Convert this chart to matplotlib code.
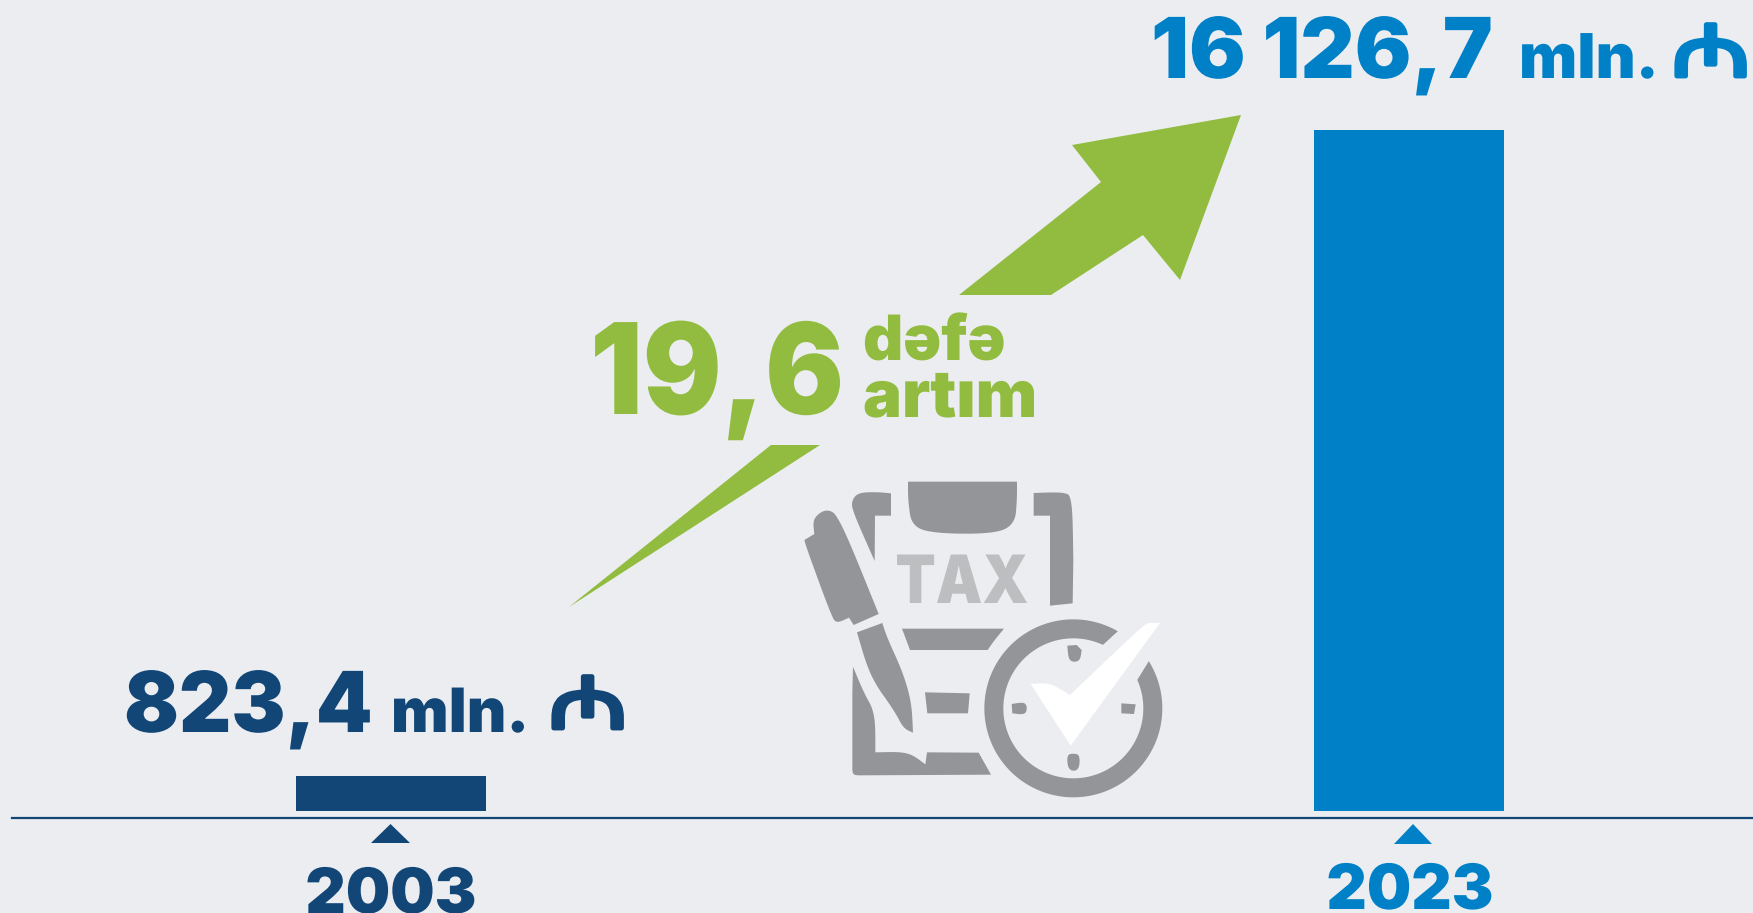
import numpy as np
import matplotlib
matplotlib.use('Agg')
import matplotlib.pyplot as plt
import matplotlib.patheffects as pe
from matplotlib.patches import Polygon
from matplotlib.transforms import Affine2D

# Data
years = ['2003', '2023']
values = [823.4, 16126.7]
value_labels = ['823,4', '16 126,7']
growth_label = '19,6'
unit = 'mln.'
currency = '\u20bc'

# Colours
BG = '#EBEDF1'
NAVY = '#114677'
BLUE = '#0080C6'
GREEN = '#92BC3F'
GRAY = '#939598'
LIGHT = '#BCBEC0'
WHITE = '#FFFFFF'

W, H = 1753, 913
BASE_Y = 811  # pixel row of value 0
PX_PER_VALUE = 681 / values[1]

fig = plt.figure(figsize=(W / 100, H / 100), dpi=100, facecolor=BG)

# bars on a real value scale
ax = fig.add_axes([0, 0, 1, 1])
ax.set_xlim(0, W)
ax.set_ylim(-(H - BASE_Y) / PX_PER_VALUE, BASE_Y / PX_PER_VALUE)
ax.axis('off')
ax.bar([391, 1409], values, width=190, color=[NAVY, BLUE], linewidth=0)

# everything else is placed in picture pixels
ov = fig.add_axes([0, 0, 1, 1])
ov.set_xlim(0, W)
ov.set_ylim(H, 0)
ov.axis('off')
ov.patch.set_alpha(0)

ov.plot([12, W], [818, 818], color=NAVY, lw=1.6)


class Squeeze(pe.AbstractPathEffect):
    """Scale drawn text about a point, the fonts here are wider than the original one"""

    def __init__(self, x, y, kx=1.0, ky=1.0, stroke=0.0):
        super().__init__()
        self.t = Affine2D().translate(-x, -(H - y)).scale(kx, ky).translate(x, H - y)
        self.stroke = stroke

    def draw_path(self, renderer, gc, tpath, affine, rgbFace=None):
        gc0 = renderer.new_gc()
        gc0.copy_properties(gc)
        if self.stroke:
            gc0.set_linewidth(self.stroke)
            gc0.set_foreground(rgbFace)
        renderer.draw_path(gc0, tpath, affine + self.t, rgbFace)
        gc0.restore()


def poly(pts, color):
    ov.add_patch(Polygon(pts, closed=True, facecolor=color, edgecolor='none'))


def label(x, y, s, size, color, ha='left', kx=1.0):
    ov.text(x, y, s, fontsize=size, color=color, ha=ha, va='baseline',
            family='Inter', fontweight=900, path_effects=[Squeeze(x, y, kx)])


def manat(x, y, size, color):
    # Noto Sans has the sign but only in a regular weight, so thicken it
    ov.text(x, y, currency, fontsize=size, color=color, ha='left', va='baseline',
            family='Noto Sans', path_effects=[Squeeze(x, y, 1.0, 0.73, 3.5)])


def smooth(pts, rounds=3):
    # corner cutting; only points given as (x, y, 1) get rounded
    pts = [(p[0], p[1], len(p) > 2) for p in pts]
    for _ in range(rounds):
        new = []
        n = len(pts)
        for i, p in enumerate(pts):
            if not p[2]:
                new.append(p)
                continue
            a, b = pts[i - 1], pts[(i + 1) % n]
            new.append((0.75 * p[0] + 0.25 * a[0], 0.75 * p[1] + 0.25 * a[1], True))
            new.append((0.75 * p[0] + 0.25 * b[0], 0.75 * p[1] + 0.25 * b[1], True))
        pts = new
    return [(p[0], p[1]) for p in pts]


def icon(pts, color=GRAY):
    pts = np.array(smooth(pts), dtype=float)
    poly(np.column_stack([780 + pts[:, 0] / 3, 460 + pts[:, 1] / 3]), color)


# year markers
poly([(390.5, 824), (371, 843), (410, 843)], NAVY)
poly([(1413, 824), (1394, 844), (1432, 844)], BLUE)
label(391, 913, years[0], 45, NAVY, ha='center')
label(1410, 909, years[1], 45, BLUE, ha='center')

# value labels
label(124, 732, value_labels[0], 60.5, NAVY, kx=0.964)
label(391, 732, unit, 44, NAVY)
manat(548, 728, 71, NAVY)
label(1151, 78, value_labels[1], 60.5, BLUE)
label(1519, 78, unit, 44.5, BLUE)
manat(1671, 76, 71, BLUE)

# growth arrow and label
poly([(1241, 115), (1072, 145), (1101, 182), (959, 295), (1051, 295),
      (1143, 235), (1180, 280)], GREEN)
poly([(771, 445), (820, 445), (569, 607)], GREEN)
label(590, 414, growth_label, 91, GREEN, kx=0.924)
label(863, 360, 'dəfə', 45, GREEN)
label(863, 417, 'artım', 47, GREEN)

# tax icon
icon([(333, 100), (290, 96, 1), (235, 98, 1), (216, 120, 1), (216, 150, 1),
      (284, 303), (285, 167), (333, 167)])
icon([(384, 65), (711, 65), (711, 120, 1), (705, 190, 1), (650, 221, 1),
      (470, 221, 1), (395, 200, 1), (384, 120, 1)])
icon([(761, 99), (850, 96, 1), (877, 110, 1), (880, 300), (878, 430),
      (810, 437), (810, 167), (761, 167)])
icon([(73, 240), (103, 222), (98, 175, 1), (140, 145, 1), (178, 170, 1), (296, 462),
      (221, 495), (207, 473), (170, 490, 1), (155, 470, 1), (80, 265, 1)])
icon([(231, 517), (307, 489), (320, 530, 1), (370, 640, 1), (395, 730, 1),
      (399, 818), (370, 805, 1), (345, 755, 1), (270, 650, 1)])
icon([(366, 506), (672, 506), (640, 545, 1), (623, 570), (390, 570)])
icon([(435, 697), (569, 700), (564, 760), (442, 760)])
icon([(219, 620), (250, 695, 1), (286, 760, 1), (286, 877), (385, 875, 1),
      (436, 913), (441, 877), (596, 878), (633, 944), (250, 946), (217, 946, 1),
      (217, 915), (217, 700)])
label(962, 603, 'TAX', 48, LIGHT, ha='center', kx=0.88)

# clock ring with a gap for the tick
outer = np.radians(np.linspace(60, 392, 120))
inner = np.radians(np.linspace(384, 65, 120))
ring = np.concatenate([
    np.column_stack([880 + 267 * np.cos(outer), 745 - 267 * np.sin(outer)]),
    np.column_stack([880 + 210 * np.cos(inner), 745 - 210 * np.sin(inner)]),
])
icon(ring)
icon([(862, 557), (890, 555), (905, 570), (900, 605, 1), (866, 605, 1)])
icon([(695, 732), (740, 725, 1), (740, 765, 1), (697, 760)])
icon([(1024, 730), (1067, 733), (1062, 762), (1024, 760)])
icon([(880, 880, 1), (900, 885, 1), (897, 932, 1), (865, 932, 1), (860, 885, 1)])
icon([(752, 672), (810, 668, 1), (870, 705), (1085, 500, 1), (1105, 489), (1140, 489),
      (872, 857)], WHITE)

fig.savefig('out.png', dpi=100, facecolor=BG)
